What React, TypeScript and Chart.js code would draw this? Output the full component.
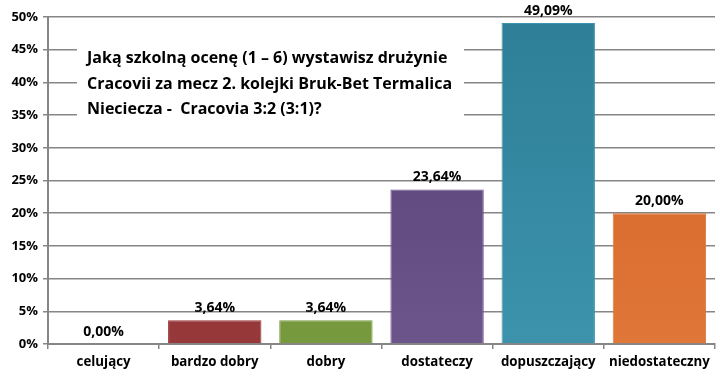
import React, { useEffect, useRef } from "react";
import { Chart, registerables } from "chart.js";

Chart.register(...registerables);

const categories = ["celujący", "bardzo dobry", "dobry", "dostateczy", "dopuszczający", "niedostateczny"];
const values = [0, 3.64, 3.64, 23.64, 49.09, 20.0];
const valueLabels = ["0,00%", "3,64%", "3,64%", "23,64%", "49,09%", "20,00%"];
const colorsDark = ["#3F6FA8", "#8A2C2C", "#6A8A33", "#553F73", "#2E7E97", "#D35F25"];
const colorsLight = ["#5B8BC4", "#97383A", "#789A3E", "#6C558B", "#3D93AC", "#DF7738"];
const titleLines = [
  "Jaką szkolną ocenę (1 – 6) wystawisz drużynie",
  "Cracovii za mecz 2. kolejki Bruk-Bet Termalica",
  "Nieciecza -  Cracovia 3:2 (3:1)?",
];

const FONT = "'Open Sans', sans-serif";

export default function App() {
  const ref = useRef<HTMLCanvasElement>(null);
  useEffect(() => {
    document.body.style.margin = "0";
    const canvas = ref.current!;
    const labelPlugin = {
      id: "labels",
      beforeDatasetsDraw(chart: any) {
        const ctx = chart.ctx;
        ctx.save();
        ctx.fillStyle = "#ffffff";
        ctx.fillRect(77, 31, 387, 97);
        ctx.fillStyle = "#000000";
        ctx.font = `bold 16px ${FONT}`;
        ctx.textAlign = "left";
        ctx.textBaseline = "middle";
        const ys = [58, 84, 109];
        titleLines.forEach((t, i) => ctx.fillText(t, 87, ys[i]));
        ctx.restore();
      },
      afterDatasetsDraw(chart: any) {
        const ctx = chart.ctx;
        const meta = chart.getDatasetMeta(0);
        ctx.save();
        ctx.fillStyle = "#000000";
        ctx.font = `bold 14px ${FONT}`;
        ctx.textAlign = "center";
        ctx.textBaseline = "middle";
        meta.data.forEach((bar: any, i: number) => {
          ctx.fillText(valueLabels[i], bar.x, bar.y - 12);
        });
        ctx.restore();
      },
    };
    const chart = new Chart(canvas, {
      type: "bar",
      data: {
        labels: categories,
        datasets: [
          {
            data: values,
            backgroundColor: (c: any) => {
              const i = c.dataIndex;
              const area = c.chart.chartArea;
              if (!area) return colorsDark[i];
              const g = c.chart.ctx.createLinearGradient(0, area.top, 0, area.bottom);
              g.addColorStop(0, colorsDark[i]);
              g.addColorStop(1, colorsLight[i]);
              return g;
            },
            borderColor: colorsLight,
            borderWidth: 1,
            categoryPercentage: 1,
            barPercentage: 0.84,
          },
        ],
      },
      options: {
        animation: false,
        responsive: false,
        maintainAspectRatio: false,
        layout: { padding: { top: 17, right: 5, left: 0, bottom: 0 } },
        plugins: { legend: { display: false }, tooltip: { enabled: false } },
        scales: {
          x: {
            grid: { offset: true, drawOnChartArea: false, color: "#868686", lineWidth: 1.5, tickLength: 5 },
            border: { color: "#868686", width: 2 },
            ticks: { color: "#000", font: { family: FONT, weight: "bold", size: 13.3 }, padding: 5 },
            afterFit: (s: any) => { s.height = 34; },
          },
          y: {
            min: 0,
            max: 50,
            ticks: {
              stepSize: 5,
              color: "#000",
              padding: 5,
              font: { family: FONT, weight: "bold", size: 13 },
              callback: (v: any) => v + "%",
            },
            grid: { color: "#868686", lineWidth: 1.5, tickLength: 5 },
            border: { color: "#868686", width: 2 },
            afterFit: (s: any) => { s.width = 48; },
          },
        },
      },
      plugins: [labelPlugin],
    } as any);
    return () => chart.destroy();
  }, []);
  return <canvas ref={ref} width={720} height={378} style={{ display: "block" }} />;
}
